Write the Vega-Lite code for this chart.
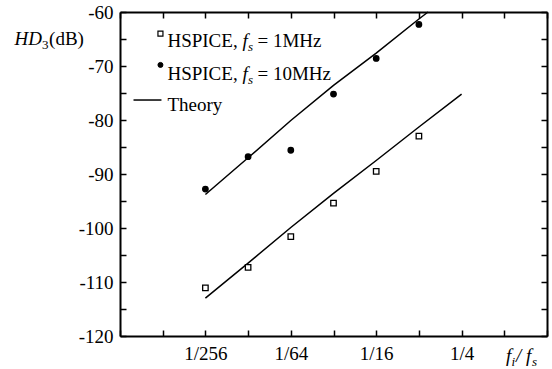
{
  "$schema": "https://vega.github.io/schema/vega-lite/v6.json",
  "width": 427,
  "height": 324,
  "autosize": "none",
  "padding": {"left": 120, "top": 12, "right": 5, "bottom": 33},
  "background": "white",
  "config": {
    "view": {"stroke": null},
    "font": "Liberation Serif",
    "style": {"guide-label": {"font": "Liberation Serif", "fontSize": 19, "fill": "black"}},
    "text": {"font": "Liberation Serif", "color": "black", "baseline": "alphabetic", "align": "left"},
    "axis": {
      "title": null,
      "grid": false,
      "domainColor": "black",
      "domainWidth": 2,
      "tickColor": "black",
      "tickWidth": 1.5,
      "tickSize": -6,
      "labelFont": "Liberation Serif",
      "labelFontSize": 19,
      "labelColor": "black",
      "labelFlush": false,
      "labelOverlap": false,
      "labelBound": false
    }
  },
  "datasets": {
    "sim": [
      {"ratio": 0.00390625, "hd3": -111.1, "fs": "1MHz"},
      {"ratio": 0.0078125, "hd3": -107.3, "fs": "1MHz"},
      {"ratio": 0.015625, "hd3": -101.6, "fs": "1MHz"},
      {"ratio": 0.03125, "hd3": -95.4, "fs": "1MHz"},
      {"ratio": 0.0625, "hd3": -89.5, "fs": "1MHz"},
      {"ratio": 0.125, "hd3": -83.0, "fs": "1MHz"},
      {"ratio": 0.00390625, "hd3": -92.8, "fs": "10MHz"},
      {"ratio": 0.0078125, "hd3": -86.8, "fs": "10MHz"},
      {"ratio": 0.015625, "hd3": -85.6, "fs": "10MHz"},
      {"ratio": 0.03125, "hd3": -75.2, "fs": "10MHz"},
      {"ratio": 0.0625, "hd3": -68.6, "fs": "10MHz"},
      {"ratio": 0.125, "hd3": -62.3, "fs": "10MHz"}
    ],
    "theory": [
      {"ratio": 0.00390625, "hd3": -113.0, "fs": "1MHz"},
      {"ratio": 0.0078125, "hd3": -106.5, "fs": "1MHz"},
      {"ratio": 0.015625, "hd3": -99.9, "fs": "1MHz"},
      {"ratio": 0.03125, "hd3": -93.6, "fs": "1MHz"},
      {"ratio": 0.0625, "hd3": -87.5, "fs": "1MHz"},
      {"ratio": 0.125, "hd3": -81.3, "fs": "1MHz"},
      {"ratio": 0.25, "hd3": -75.2, "fs": "1MHz"},
      {"ratio": 0.00390625, "hd3": -93.8, "fs": "10MHz"},
      {"ratio": 0.0078125, "hd3": -87.0, "fs": "10MHz"},
      {"ratio": 0.015625, "hd3": -80.1, "fs": "10MHz"},
      {"ratio": 0.03125, "hd3": -73.6, "fs": "10MHz"},
      {"ratio": 0.0625, "hd3": -67.6, "fs": "10MHz"},
      {"ratio": 0.125, "hd3": -61.3, "fs": "10MHz"},
      {"ratio": 0.145, "hd3": -60.0, "fs": "10MHz"}
    ],
    "one": [{}]
  },
  "resolve": {"axis": {"x": "independent", "y": "independent"}},
  "layer": [
    {
      "data": {"name": "theory"},
      "mark": {"type": "line", "color": "black", "strokeWidth": 1.5},
      "encoding": {
        "x": {
          "field": "ratio", "type": "quantitative",
          "scale": {"type": "log", "base": 2, "domain": [0.0009765625, 1]},
          "axis": {
            "orient": "bottom",
            "values": [0.0009765625, 0.001953125, 0.00390625, 0.0078125, 0.015625, 0.03125, 0.0625, 0.125, 0.25, 0.5, 1],
            "labelExpr": "datum.value == 0.00390625 ? '1/256' : datum.value == 0.015625 ? '1/64' : datum.value == 0.0625 ? '1/16' : datum.value == 0.25 ? '1/4' : ''",
            "labelPadding": 14,
            "labelFont": "Liberation Serif",
            "labelFontSize": 19
          }
        },
        "y": {
          "field": "hd3", "type": "quantitative",
          "scale": {"domain": [-120, -60], "nice": false, "zero": false},
          "axis": {
            "orient": "left",
            "values": [-120, -115, -110, -105, -100, -95, -90, -85, -80, -75, -70, -65, -60],
            "labelExpr": "datum.value % 10 == 0 ? '' + datum.value : ''",
            "labelPadding": 13,
            "labelFont": "Liberation Serif",
            "labelFontSize": 19
          }
        },
        "detail": {"field": "fs"}
      }
    },
    {
      "data": {"name": "sim"},
      "mark": {"type": "point", "filled": true, "stroke": "black", "strokeWidth": 1.3, "opacity": 1, "size": 30},
      "encoding": {
        "x": {
          "field": "ratio", "type": "quantitative",
          "axis": {
            "orient": "top",
            "values": [0.0009765625, 0.001953125, 0.00390625, 0.0078125, 0.015625, 0.03125, 0.0625, 0.125, 0.25, 0.5, 1],
            "labels": false
          }
        },
        "y": {
          "field": "hd3", "type": "quantitative",
          "axis": {
            "orient": "right",
            "values": [-120, -115, -110, -105, -100, -95, -90, -85, -80, -75, -70, -65, -60],
            "labels": false
          }
        },
        "shape": {"field": "fs", "type": "nominal", "scale": {"domain": ["1MHz", "10MHz"], "range": ["square", "circle"]}, "legend": null},
        "fill": {"field": "fs", "type": "nominal", "scale": {"domain": ["1MHz", "10MHz"], "range": ["white", "black"]}, "legend": null}
      }
    },
    {
      "data": {"name": "one"},
      "mark": {"type": "point", "shape": "square", "filled": true, "fill": "white", "stroke": "black", "strokeWidth": 1.2, "size": 25, "opacity": 1},
      "encoding": {"x": {"datum": 0.001883, "axis": null}, "y": {"datum": -64.0, "axis": null}}
    },
    {
      "data": {"name": "one"},
      "mark": {"type": "point", "shape": "circle", "filled": true, "fill": "black", "stroke": "black", "strokeWidth": 1, "size": 25, "opacity": 1},
      "encoding": {"x": {"datum": 0.001883, "axis": null}, "y": {"datum": -69.8, "axis": null}}
    },
    {
      "data": {"name": "one"},
      "mark": {"type": "rule", "color": "black", "strokeWidth": 1.5},
      "encoding": {"x": {"datum": 0.001216, "axis": null}, "x2": {"datum": 0.001914}, "y": {"datum": -76.3, "axis": null}}
    },
    {
      "data": {"name": "one"},
      "mark": {"type": "text", "text": "HSPICE,", "fontSize": 19},
      "encoding": {"x": {"datum": 0.002109, "axis": null}, "y": {"datum": -66.4, "axis": null}}
    },
    {
      "data": {"name": "one"},
      "mark": {"type": "text", "text": "f", "fontSize": 19, "fontStyle": "italic", "dx": 75},
      "encoding": {"x": {"datum": 0.002109, "axis": null}, "y": {"datum": -66.4, "axis": null}}
    },
    {
      "data": {"name": "one"},
      "mark": {"type": "text", "text": "s", "fontSize": 13, "fontStyle": "italic", "dx": 80.5, "dy": 4},
      "encoding": {"x": {"datum": 0.002109, "axis": null}, "y": {"datum": -66.4, "axis": null}}
    },
    {
      "data": {"name": "one"},
      "mark": {"type": "text", "text": "= 1MHz", "fontSize": 19, "dx": 90},
      "encoding": {"x": {"datum": 0.002109, "axis": null}, "y": {"datum": -66.4, "axis": null}}
    },
    {
      "data": {"name": "one"},
      "mark": {"type": "text", "text": "HSPICE,", "fontSize": 19},
      "encoding": {"x": {"datum": 0.002109, "axis": null}, "y": {"datum": -72.6, "axis": null}}
    },
    {
      "data": {"name": "one"},
      "mark": {"type": "text", "text": "f", "fontSize": 19, "fontStyle": "italic", "dx": 75},
      "encoding": {"x": {"datum": 0.002109, "axis": null}, "y": {"datum": -72.6, "axis": null}}
    },
    {
      "data": {"name": "one"},
      "mark": {"type": "text", "text": "s", "fontSize": 13, "fontStyle": "italic", "dx": 80.5, "dy": 4},
      "encoding": {"x": {"datum": 0.002109, "axis": null}, "y": {"datum": -72.6, "axis": null}}
    },
    {
      "data": {"name": "one"},
      "mark": {"type": "text", "text": "= 10MHz", "fontSize": 19, "dx": 90},
      "encoding": {"x": {"datum": 0.002109, "axis": null}, "y": {"datum": -72.6, "axis": null}}
    },
    {
      "data": {"name": "one"},
      "mark": {"type": "text", "text": "Theory", "fontSize": 19},
      "encoding": {"x": {"datum": 0.002109, "axis": null}, "y": {"datum": -78.3, "axis": null}}
    },
    {
      "data": {"name": "one"},
      "mark": {"type": "text", "text": "HD", "fontSize": 19, "fontStyle": "italic"},
      "encoding": {"x": {"datum": 0.0001765, "axis": null}, "y": {"datum": -66.2, "axis": null}}
    },
    {
      "data": {"name": "one"},
      "mark": {"type": "text", "text": "3", "fontSize": 13, "dx": 27.5, "dy": 4},
      "encoding": {"x": {"datum": 0.0001765, "axis": null}, "y": {"datum": -66.2, "axis": null}}
    },
    {
      "data": {"name": "one"},
      "mark": {"type": "text", "text": "(dB)", "fontSize": 19, "dx": 34.5},
      "encoding": {"x": {"datum": 0.0001765, "axis": null}, "y": {"datum": -66.2, "axis": null}}
    },
    {
      "data": {"name": "one"},
      "mark": {"type": "text", "text": "f", "fontSize": 19, "fontStyle": "italic"},
      "encoding": {"x": {"datum": 0.5143, "axis": null}, "y": {"datum": -124.9, "axis": null}}
    },
    {
      "data": {"name": "one"},
      "mark": {"type": "text", "text": "i", "fontSize": 13, "fontStyle": "italic", "dx": 5.5, "dy": 4},
      "encoding": {"x": {"datum": 0.5143, "axis": null}, "y": {"datum": -124.9, "axis": null}}
    },
    {
      "data": {"name": "one"},
      "mark": {"type": "text", "text": "/", "fontSize": 19, "fontStyle": "italic", "dx": 10},
      "encoding": {"x": {"datum": 0.5143, "axis": null}, "y": {"datum": -124.9, "axis": null}}
    },
    {
      "data": {"name": "one"},
      "mark": {"type": "text", "text": "f", "fontSize": 19, "fontStyle": "italic", "dx": 20},
      "encoding": {"x": {"datum": 0.5143, "axis": null}, "y": {"datum": -124.9, "axis": null}}
    },
    {
      "data": {"name": "one"},
      "mark": {"type": "text", "text": "s", "fontSize": 13, "fontStyle": "italic", "dx": 26, "dy": 4},
      "encoding": {"x": {"datum": 0.5143, "axis": null}, "y": {"datum": -124.9, "axis": null}}
    }
  ]
}
